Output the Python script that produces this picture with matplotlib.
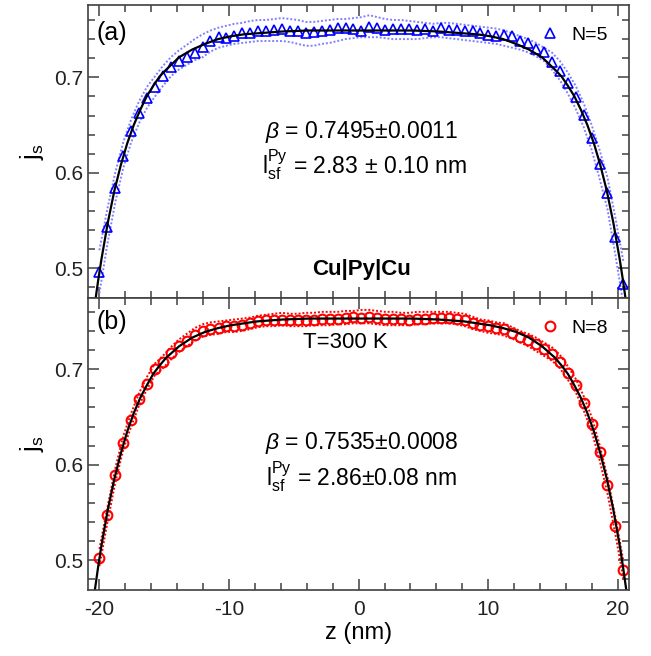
import numpy as np
import matplotlib
matplotlib.use("Agg")
import matplotlib.pyplot as plt
from matplotlib.ticker import MultipleLocator, FormatStrFormatter

plt.rcParams['font.family'] = ['Liberation Sans', 'DejaVu Sans']
plt.rcParams['mathtext.fontset'] = 'custom'
plt.rcParams['mathtext.rm'] = 'Liberation Sans'
plt.rcParams['mathtext.it'] = 'Liberation Sans:italic'
plt.rcParams['mathtext.bf'] = 'Liberation Sans:bold'
plt.rcParams['axes.unicode_minus'] = False

# ---- data ----
# sample positions along z (nm), same grid for both panels
z = [-20.00, -19.39, -18.78, -18.16, -17.55, -16.94, -16.33, -15.71, -15.10, -14.49,
     -13.88, -13.26, -12.65, -12.04, -11.43, -10.81, -10.20, -9.59, -8.98, -8.36,
     -7.75, -7.14, -6.53, -5.91, -5.30, -4.69, -4.08, -3.46, -2.85, -2.24,
     -1.63, -1.01, -0.40, 0.21, 0.83, 1.44, 2.05, 2.66, 3.28, 3.89,
     4.50, 5.11, 5.73, 6.34, 6.95, 7.56, 8.18, 8.79, 9.40, 10.01,
     10.63, 11.24, 11.85, 12.46, 13.08, 13.69, 14.30, 14.91, 15.53, 16.14,
     16.75, 17.36, 17.98, 18.59, 19.20, 19.81, 20.43]

# (a) N=5
js_a = [0.496, 0.543, 0.584, 0.618, 0.644, 0.663, 0.678, 0.690, 0.701, 0.711,
        0.717, 0.721, 0.725, 0.732, 0.738, 0.742, 0.741, 0.743, 0.746, 0.746,
        0.748, 0.749, 0.750, 0.751, 0.748, 0.749, 0.746, 0.747, 0.748, 0.750,
        0.752, 0.752, 0.751, 0.749, 0.753, 0.752, 0.750, 0.751, 0.751, 0.751,
        0.750, 0.751, 0.749, 0.752, 0.750, 0.750, 0.749, 0.748, 0.746, 0.744,
        0.743, 0.744, 0.743, 0.738, 0.736, 0.730, 0.726, 0.716, 0.707, 0.694,
        0.679, 0.661, 0.637, 0.609, 0.579, 0.533, 0.484]
up_a = [0.519, 0.562, 0.600, 0.632, 0.656, 0.675, 0.690, 0.701, 0.712, 0.721,
        0.728, 0.734, 0.740, 0.745, 0.749, 0.752, 0.754, 0.756, 0.757, 0.759,
        0.760, 0.760, 0.761, 0.762, 0.761, 0.760, 0.758, 0.758, 0.759, 0.760,
        0.761, 0.761, 0.762, 0.763, 0.765, 0.763, 0.761, 0.760, 0.760, 0.759,
        0.758, 0.757, 0.756, 0.757, 0.757, 0.756, 0.755, 0.754, 0.753, 0.752,
        0.751, 0.749, 0.746, 0.743, 0.740, 0.736, 0.731, 0.726, 0.717, 0.705,
        0.691, 0.673, 0.650, 0.624, 0.595, 0.553, 0.507]
lo_a = [0.474, 0.525, 0.569, 0.605, 0.632, 0.652, 0.668, 0.680, 0.691, 0.701,
        0.708, 0.713, 0.718, 0.721, 0.727, 0.731, 0.733, 0.735, 0.736, 0.737,
        0.738, 0.738, 0.738, 0.738, 0.737, 0.735, 0.733, 0.733, 0.735, 0.736,
        0.738, 0.740, 0.741, 0.742, 0.742, 0.742, 0.741, 0.740, 0.740, 0.740,
        0.740, 0.741, 0.742, 0.742, 0.741, 0.740, 0.739, 0.738, 0.737, 0.736,
        0.735, 0.733, 0.731, 0.729, 0.726, 0.722, 0.717, 0.708, 0.697, 0.683,
        0.667, 0.648, 0.624, 0.594, 0.562, 0.514, 0.462]

# (b) N=8
js_b = [0.503, 0.547, 0.589, 0.623, 0.647, 0.669, 0.685, 0.700, 0.708, 0.717,
        0.724, 0.730, 0.736, 0.740, 0.742, 0.743, 0.745, 0.745, 0.746, 0.748,
        0.750, 0.751, 0.752, 0.752, 0.752, 0.752, 0.752, 0.752, 0.753, 0.753,
        0.753, 0.754, 0.755, 0.754, 0.755, 0.754, 0.753, 0.753, 0.753, 0.752,
        0.753, 0.753, 0.754, 0.754, 0.754, 0.753, 0.752, 0.748, 0.746, 0.745,
        0.743, 0.742, 0.738, 0.734, 0.731, 0.726, 0.721, 0.716, 0.708, 0.696,
        0.683, 0.665, 0.643, 0.613, 0.579, 0.536, 0.490]
up_b = [0.512, 0.555, 0.596, 0.630, 0.654, 0.675, 0.692, 0.706, 0.714, 0.723,
        0.731, 0.737, 0.743, 0.747, 0.749, 0.750, 0.751, 0.752, 0.753, 0.754,
        0.756, 0.757, 0.758, 0.759, 0.758, 0.758, 0.759, 0.759, 0.760, 0.760,
        0.760, 0.761, 0.761, 0.762, 0.762, 0.761, 0.760, 0.760, 0.759, 0.759,
        0.760, 0.760, 0.760, 0.760, 0.760, 0.759, 0.758, 0.755, 0.752, 0.751,
        0.749, 0.748, 0.744, 0.740, 0.737, 0.733, 0.728, 0.723, 0.715, 0.703,
        0.690, 0.672, 0.650, 0.621, 0.587, 0.545, 0.499]
lo_b = [0.494, 0.539, 0.581, 0.616, 0.640, 0.662, 0.679, 0.694, 0.701, 0.710,
        0.718, 0.724, 0.730, 0.734, 0.736, 0.737, 0.739, 0.739, 0.740, 0.742,
        0.744, 0.745, 0.745, 0.746, 0.745, 0.745, 0.745, 0.746, 0.746, 0.746,
        0.747, 0.747, 0.748, 0.748, 0.748, 0.747, 0.746, 0.746, 0.746, 0.746,
        0.747, 0.747, 0.748, 0.748, 0.748, 0.747, 0.745, 0.742, 0.740, 0.738,
        0.737, 0.735, 0.732, 0.728, 0.724, 0.719, 0.714, 0.709, 0.701, 0.689,
        0.676, 0.657, 0.635, 0.605, 0.570, 0.527, 0.481]

# fitted curves (black lines)
z_fit = [-20.60, -20.35, -20.10, -19.85, -19.35, -18.85, -18.35, -17.85, -17.35, -16.85,
         -16.35, -15.85, -15.35, -14.85, -13.85, -12.85, -11.85, -10.85, -9.85, -8.85,
         -7.85, -5.85, -3.85, -1.85, 0.15, 2.15, 4.15, 6.15, 8.15, 9.15,
         10.15, 11.15, 12.15, 13.15, 14.15, 15.15, 15.65, 16.15, 16.65, 17.15,
         17.65, 18.15, 18.65, 19.15, 19.65, 20.15, 20.40, 20.65, 20.90]
fit_a = [0.436, 0.463, 0.487, 0.509, 0.548, 0.581, 0.608, 0.631, 0.650, 0.666,
         0.680, 0.691, 0.701, 0.708, 0.721, 0.729, 0.735, 0.740, 0.743, 0.745,
         0.746, 0.748, 0.749, 0.749, 0.749, 0.749, 0.749, 0.748, 0.746, 0.745,
         0.743, 0.740, 0.735, 0.729, 0.721, 0.708, 0.701, 0.691, 0.680, 0.666,
         0.650, 0.631, 0.608, 0.581, 0.548, 0.509, 0.487, 0.463, 0.436]
fit_b = [0.443, 0.469, 0.493, 0.515, 0.553, 0.585, 0.612, 0.635, 0.654, 0.670,
         0.683, 0.695, 0.704, 0.712, 0.724, 0.733, 0.739, 0.743, 0.746, 0.748,
         0.750, 0.752, 0.753, 0.753, 0.753, 0.753, 0.753, 0.752, 0.750, 0.748,
         0.746, 0.743, 0.739, 0.733, 0.724, 0.712, 0.704, 0.695, 0.683, 0.670,
         0.654, 0.635, 0.612, 0.585, 0.553, 0.515, 0.493, 0.469, 0.443]

W, H = 651, 656
fig = plt.figure(figsize=(W / 100, H / 100), dpi=100)
ax1 = fig.add_axes([88 / W, 1 - 298 / H, 541 / W, 293 / H])
ax2 = fig.add_axes([88 / W, 1 - 590 / H, 541 / W, 292 / H])

spine_c = '#404040'
dots = (0, (1, 1))

# panel (a)
ax1.plot(z, up_a, color='#8080ff', ls=dots, lw=1.4)
ax1.plot(z, lo_a, color='#8080ff', ls=dots, lw=1.4)
ax1.plot(z, js_a, ls='none', marker='^', ms=7, mfc='none', mec='#0000ff', mew=1.2, label='N=5')
ax1.plot(z_fit, fit_a, color='black', lw=1.6)

# panel (b)
ax2.plot(z, up_b, color='#ff0000', ls=dots, lw=1.4)
ax2.plot(z, lo_b, color='#ff0000', ls=dots, lw=1.4)
ax2.plot(z, js_b, ls='none', marker='o', ms=7, mfc='none', mec='#ff0000', mew=1.5, label='N=8')
ax2.plot(z_fit, fit_b, color='black', lw=1.6)

for ax, ylo, yhi in ((ax1, 0.469, 0.7757), (ax2, 0.469, 0.7745)):
    ax.set_xlim(-20.88, 20.86)
    ax.set_ylim(ylo, yhi)
    ax.xaxis.set_major_locator(MultipleLocator(10))
    ax.xaxis.set_minor_locator(MultipleLocator(2))
    ax.yaxis.set_major_locator(MultipleLocator(0.1))
    ax.yaxis.set_minor_locator(MultipleLocator(0.02))
    ax.yaxis.set_major_formatter(FormatStrFormatter('%.1f'))
    ax.tick_params(which='both', direction='in', top=True, right=True,
                   color=spine_c, width=1.1, labelsize=15, labelcolor='#222222')
    ax.tick_params(which='major', length=8)
    ax.tick_params(which='minor', length=5)
    for s in ax.spines.values():
        s.set_color(spine_c)
        s.set_linewidth(1.2)
    ax.set_ylabel(r'$\mathrm{j_s}$', fontsize=18, labelpad=6)
    ax.legend(loc='upper right', frameon=False, fontsize=14, handlelength=1.0,
              handletextpad=0.6, numpoints=1, borderaxespad=0.7)

ax1.tick_params(labelbottom=False)
ax2.tick_params(axis='x', pad=7)
ax2.set_xlabel('z (nm)', fontsize=17, labelpad=2)

ax1.text(0.015, 0.905, '(a)', transform=ax1.transAxes, fontsize=18, va='center', ha='left')
ax2.text(0.015, 0.918, '(b)', transform=ax2.transAxes, fontsize=18, va='center', ha='left')

ax1.text(0.506, 0.565, r'$\beta$ = 0.7495$\pm$0.0011', transform=ax1.transAxes,
         fontsize=16.5, ha='center', va='center')
ax1.text(0.512, 0.452, r'$\mathrm{l_{sf}^{Py}}$ = 2.83$\,\pm\,$0.10 nm', transform=ax1.transAxes,
         fontsize=16.5, ha='center', va='center')
ax1.text(0.505, 0.096, 'Cu|Py|Cu', transform=ax1.transAxes, fontsize=16,
         fontweight='bold', ha='center', va='center')

ax2.text(0.475, 0.846, 'T=300 K', transform=ax2.transAxes, fontsize=16, ha='center', va='center')
ax2.text(0.506, 0.503, r'$\beta$ = 0.7535$\pm$0.0008', transform=ax2.transAxes,
         fontsize=16.5, ha='center', va='center')
ax2.text(0.506, 0.384, r'$\mathrm{l_{sf}^{Py}}$ = 2.86$\pm$0.08 nm', transform=ax2.transAxes,
         fontsize=16.5, ha='center', va='center')

fig.savefig('out.png', dpi=100)
